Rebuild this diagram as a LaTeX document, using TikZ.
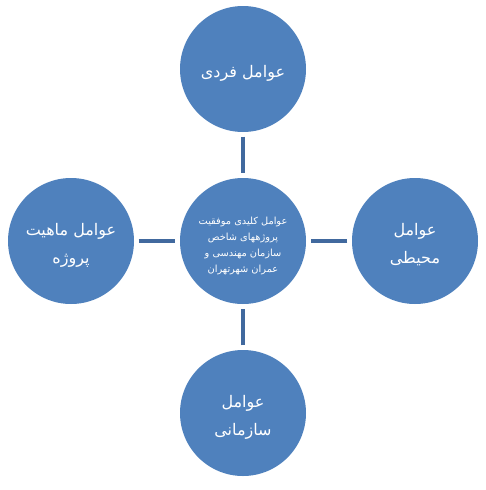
\documentclass[tikz,border=0pt]{standalone}
\usepackage{fontspec}
\usepackage{tikz}
\usetikzlibrary{arrows}
\TeXXeTstate=1
\newfontfamily\farsifont[Script=Arabic]{DejaVu Sans}
\newcommand{\rtl}[1]{\beginR #1\endR}
% lowered a little, as in the reference
\newcommand{\circtext}[1]{\raisebox{-7pt}[0pt][0pt]{\begin{tabular}{@{}c@{}}#1\end{tabular}}}
\definecolor{circblue}{HTML}{4F81BD}
\definecolor{linkblue}{HTML}{41699E}

\begin{document}
\begin{tikzpicture}[x=1pt,y=-1pt,
    factor/.style={circle,fill=circblue,minimum size=126pt,inner sep=0pt,
        text=white,font=\farsifont\fontsize{16}{28}\selectfont},
    core/.style={factor,font=\farsifont\fontsize{9.8}{16}\selectfont},
    link/.style={linkblue,line width=3.5pt,shorten <=4.5pt,shorten >=4.5pt}]
    \useasboundingbox (0,0) rectangle (486,490);
    \node[core] (core) at (243,241) {\circtext{\rtl{عوامل کلیدی موفقیت}\\\rtl{پروژههای شاخص}\\\rtl{سازمان مهندسی و}\\\rtl{عمران شهرتهران}}};
    \node[factor] (fardi) at (243,69) {\circtext{\rtl{عوامل فردی}}};
    \node[factor] (mahiat) at (71,241) {\circtext{\rtl{عوامل ماهیت}\\\rtl{پروژه}}};
    \node[factor] (mohiti) at (415,241) {\circtext{\rtl{عوامل}\\\rtl{محیطی}}};
    \node[factor] (sazmani) at (243,413) {\circtext{\rtl{عوامل}\\\rtl{سازمانی}}};
    \draw[link] (fardi) -- (core);
    \draw[link] (mahiat) -- (core);
    \draw[link] (mohiti) -- (core);
    \draw[link] (sazmani) -- (core);
\end{tikzpicture}
\end{document}
